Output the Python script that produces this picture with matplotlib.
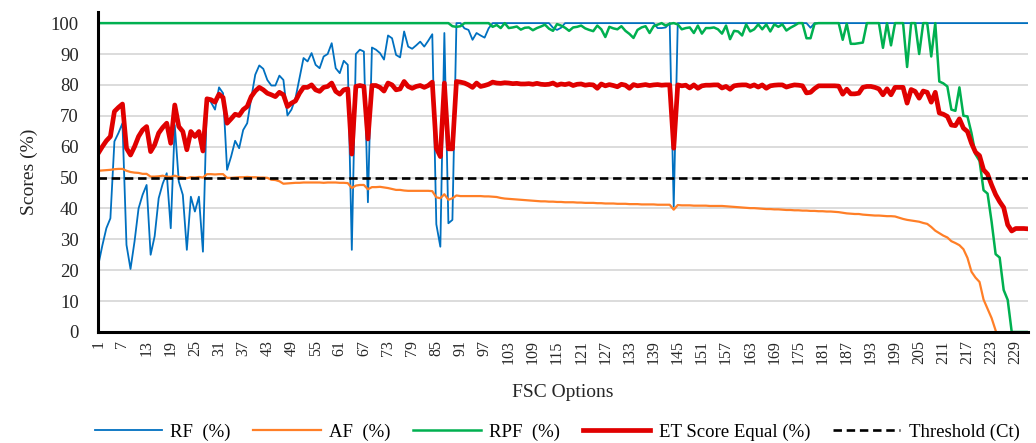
import numpy as np
import matplotlib.pyplot as plt

# FSC options 1..232 on the category axis
options = np.arange(1, 233)

# RF (%)
rf = [
    21.7, 28.0, 33.6, 36.8, 61.7, 64.4, 67.6, 28.2, 20.4, 29.3,
    40.0, 44.4, 47.6, 25.0, 31.0, 43.3, 48.0, 51.4, 33.6, 67.0,
    48.7, 44.4, 26.6, 43.8, 39.0, 43.8, 26.0, 75.7, 74.4, 72.0,
    79.2, 77.3, 52.5, 56.8, 61.9, 59.5, 65.4, 67.6, 75.7, 83.3,
    86.3, 85.2, 81.6, 79.8, 79.8, 83.0, 81.6, 70.1, 72.0, 75.7,
    82.2, 88.7, 87.6, 90.3, 86.5, 85.4, 89.2, 90.0, 93.5, 85.4,
    83.8, 87.8, 86.5, 26.6, 90.0, 91.4, 90.8, 42.0, 92.1, 91.4,
    90.3, 88.2, 96.0, 95.1, 89.7, 88.9, 97.3, 92.4, 91.7, 92.8,
    94.0, 92.4, 94.3, 96.4, 34.9, 27.6, 96.8, 35.2, 36.3, 100.0,
    100.0, 98.3, 97.8, 94.6, 96.8, 96.0, 95.3, 98.3, 100.0, 100.0,
    100.0, 100.0, 100.0, 100.0, 100.0, 100.0, 100.0, 100.0, 100.0, 100.0,
    100.0, 100.0, 100.0, 98.5, 97.8, 98.5, 100.0, 100.0, 100.0, 100.0,
    100.0, 100.0, 100.0, 100.0, 100.0, 100.0, 100.0, 100.0, 100.0, 100.0,
    100.0, 100.0, 100.0, 100.0, 100.0, 100.0, 100.0, 100.0, 100.0, 98.4,
    98.4, 98.6, 100.0, 40.6, 100.0, 100.0, 100.0, 100.0, 100.0, 100.0,
    100.0, 100.0, 100.0, 100.0, 100.0, 100.0, 100.0, 100.0, 100.0, 100.0,
    100.0, 100.0, 100.0, 100.0, 100.0, 100.0, 100.0, 100.0, 100.0, 100.0,
    100.0, 100.0, 100.0, 100.0, 100.0, 100.0, 100.0, 98.5, 100.0, 100.0,
    100.0, 100.0, 100.0, 100.0, 100.0, 100.0, 100.0, 100.0, 100.0, 100.0,
    100.0, 100.0, 100.0, 100.0, 100.0, 100.0, 100.0, 100.0, 100.0, 100.0,
    100.0, 100.0, 100.0, 100.0, 100.0, 100.0, 100.0, 100.0, 100.0, 100.0,
    100.0, 100.0, 100.0, 100.0, 100.0, 100.0, 100.0, 100.0, 100.0, 100.0,
    100.0, 100.0, 100.0, 100.0, 100.0, 100.0, 100.0, 100.0, 100.0, 100.0,
    100.0, 100.0,
]

# AF (%) - line stops where it reaches the axis
af = [
    52.2, 52.3, 52.4, 52.5, 52.7, 52.8, 52.8, 52.2, 51.8, 51.6,
    51.5, 51.2, 51.2, 50.3, 50.3, 50.4, 50.6, 50.3, 50.2, 50.6,
    50.2, 50.0, 49.8, 50.1, 50.0, 50.2, 50.0, 51.1, 51.1, 51.0,
    51.1, 51.1, 49.9, 49.9, 50.0, 50.1, 50.1, 50.2, 50.1, 50.1,
    50.0, 50.0, 49.9, 49.3, 49.2, 48.8, 48.0, 48.1, 48.2, 48.3,
    48.3, 48.4, 48.4, 48.4, 48.4, 48.4, 48.3, 48.4, 48.4, 48.4,
    48.3, 48.3, 48.2, 46.6, 47.4, 47.6, 47.6, 46.2, 46.9, 46.9,
    47.0, 46.8, 46.6, 46.3, 46.0, 46.0, 45.8, 45.7, 45.7, 45.7,
    45.7, 45.7, 45.7, 45.6, 43.6, 43.3, 44.6, 42.8, 43.3, 44.2,
    44.0, 44.0, 44.0, 44.0, 44.0, 44.0, 43.9, 43.9, 43.8, 43.7,
    43.4, 43.2, 43.1, 43.0, 42.9, 42.8, 42.7, 42.6, 42.5, 42.4,
    42.3, 42.3, 42.2, 42.2, 42.1, 42.1, 42.0, 42.0, 42.0, 41.9,
    41.9, 41.8, 41.8, 41.8, 41.7, 41.7, 41.6, 41.6, 41.6, 41.5,
    41.5, 41.5, 41.4, 41.4, 41.4, 41.3, 41.3, 41.3, 41.3, 41.2,
    41.2, 41.2, 41.2, 39.6, 41.1, 41.0, 41.0, 41.0, 40.9, 40.9,
    40.9, 40.9, 40.8, 40.8, 40.8, 40.8, 40.7, 40.6, 40.5, 40.4,
    40.3, 40.2, 40.1, 40.1, 40.0, 39.9, 39.8, 39.8, 39.7, 39.7,
    39.6, 39.5, 39.5, 39.4, 39.4, 39.3, 39.3, 39.2, 39.2, 39.1,
    39.1, 39.0, 39.0, 38.9, 38.8, 38.6, 38.4, 38.3, 38.2, 38.2,
    38.0, 37.9, 37.8, 37.7, 37.7, 37.6, 37.5, 37.5, 37.4, 37.0,
    36.6, 36.3, 36.1, 35.9, 35.7, 35.3, 35.0, 34.0, 32.8, 32.0,
    31.2, 30.6, 29.4, 28.8, 28.1, 26.8, 24.0, 19.5, 17.6, 16.2,
    10.5, 7.5, 4.5, 0.5, np.nan, np.nan, np.nan, np.nan, np.nan, np.nan,
    np.nan, np.nan,
]

# RPF (%)
rpf = [
    100.0, 100.0, 100.0, 100.0, 100.0, 100.0, 100.0, 100.0, 100.0, 100.0,
    100.0, 100.0, 100.0, 100.0, 100.0, 100.0, 100.0, 100.0, 100.0, 100.0,
    100.0, 100.0, 100.0, 100.0, 100.0, 100.0, 100.0, 100.0, 100.0, 100.0,
    100.0, 100.0, 100.0, 100.0, 100.0, 100.0, 100.0, 100.0, 100.0, 100.0,
    100.0, 100.0, 100.0, 100.0, 100.0, 100.0, 100.0, 100.0, 100.0, 100.0,
    100.0, 100.0, 100.0, 100.0, 100.0, 100.0, 100.0, 100.0, 100.0, 100.0,
    100.0, 100.0, 100.0, 100.0, 100.0, 100.0, 100.0, 100.0, 100.0, 100.0,
    100.0, 100.0, 100.0, 100.0, 100.0, 100.0, 100.0, 100.0, 100.0, 100.0,
    100.0, 100.0, 100.0, 100.0, 100.0, 100.0, 100.0, 100.0, 99.0, 98.8,
    99.0, 100.0, 100.0, 100.0, 100.0, 100.0, 100.0, 100.0, 98.8, 99.4,
    98.4, 100.0, 98.4, 98.6, 98.9, 97.9, 98.5, 98.6, 97.7, 98.4,
    98.9, 99.5, 98.2, 97.5, 99.7, 99.2, 98.5, 97.5, 98.6, 98.8,
    99.2, 98.3, 97.8, 97.4, 99.2, 98.0, 95.5, 98.8, 98.3, 98.0,
    99.0, 97.5, 96.5, 95.2, 97.8, 98.6, 99.0, 96.8, 99.0, 99.5,
    100.0, 99.2, 99.8, 100.0, 99.6, 98.0, 98.4, 98.6, 96.8, 99.2,
    96.6, 98.4, 98.4, 98.6, 98.0, 96.6, 99.2, 94.8, 97.5, 97.3,
    96.0, 99.6, 97.3, 98.0, 99.6, 98.0, 99.6, 97.3, 99.6, 98.8,
    99.6, 97.6, 98.5, 99.2, 100.0, 100.0, 95.1, 95.1, 99.8, 100.0,
    100.0, 100.0, 100.0, 100.0, 100.0, 94.6, 99.8, 93.3, 93.3, 93.5,
    93.7, 100.0, 100.0, 100.0, 100.0, 92.0, 100.0, 92.8, 100.0, 100.0,
    100.0, 85.8, 100.0, 100.0, 90.0, 100.0, 100.0, 89.2, 100.0, 81.1,
    80.5, 79.5, 72.0, 71.6, 79.2, 70.0, 69.8, 64.4, 57.5, 55.4,
    45.9, 44.8, 35.7, 25.2, 24.1, 13.6, 10.4, 0.0, 0.0, 0.0,
    0.0, 0.0,
]

# ET Score Equal (%)
et = [
    57.9, 60.0, 61.9, 63.3, 71.4, 72.7, 73.8, 59.5, 57.3, 60.0,
    63.3, 65.4, 66.5, 58.4, 60.6, 64.4, 66.2, 67.6, 61.1, 73.5,
    66.5, 64.9, 59.0, 64.9, 63.3, 64.9, 58.6, 75.5, 75.2, 74.4,
    77.0, 75.9, 67.6, 69.0, 70.5, 70.1, 72.0, 73.0, 76.2, 78.0,
    79.2, 78.4, 77.3, 76.8, 76.2, 77.6, 76.8, 73.0, 74.1, 74.8,
    77.3, 79.2, 79.2, 80.0, 78.4, 77.9, 79.2, 79.5, 80.6, 77.9,
    77.0, 78.4, 78.7, 57.6, 79.5, 79.8, 79.5, 62.5, 79.8, 79.8,
    79.2, 78.0, 80.6, 80.0, 78.4, 78.7, 81.1, 79.5, 78.9, 79.5,
    79.8, 79.2, 79.8, 80.9, 59.5, 56.8, 80.6, 59.3, 59.3, 81.1,
    80.9, 80.6, 80.0, 79.2, 80.6, 79.5, 79.8, 80.2, 80.9, 80.6,
    80.5, 80.7, 80.6, 80.4, 80.5, 80.3, 80.3, 80.4, 80.2, 80.5,
    80.2, 80.1, 80.2, 80.6, 79.9, 80.3, 80.1, 80.4, 79.8, 80.2,
    80.3, 79.9, 80.1, 80.0, 78.9, 80.3, 79.7, 80.1, 79.8, 79.4,
    80.2, 79.9, 78.9, 80.1, 79.7, 79.9, 80.1, 79.8, 80.0, 80.1,
    79.9, 80.0, 80.0, 59.5, 80.0, 79.7, 79.9, 79.0, 80.0, 78.9,
    79.7, 79.9, 79.9, 80.0, 80.0, 79.0, 79.5, 78.6, 79.7, 79.9,
    80.0, 80.0, 79.5, 80.0, 79.3, 80.0, 78.9, 79.7, 79.9, 80.0,
    80.0, 79.3, 79.7, 80.0, 79.9, 79.7, 77.4, 77.6, 78.8, 79.7,
    79.7, 79.7, 79.7, 79.7, 79.6, 77.0, 78.6, 77.1, 77.1, 77.3,
    79.2, 79.5, 79.5, 79.2, 78.7, 76.8, 78.7, 76.8, 79.2, 79.2,
    79.2, 74.1, 78.5, 77.9, 75.7, 78.0, 77.6, 74.4, 77.6, 70.9,
    70.5, 69.8, 67.0, 66.8, 69.0, 66.0, 64.9, 61.1, 58.2, 57.1,
    52.5, 51.1, 47.6, 44.5, 42.2, 40.3, 34.7, 32.7, 33.5, 33.5,
    33.5, 33.4,
]

threshold = 50
x_tick_labels = list(range(1, 233, 6))
y_ticks = [0, 10, 20, 30, 40, 50, 60, 70, 80, 90, 100]

plt.rcParams['font.family'] = ['Liberation Serif', 'DejaVu Serif']

fig = plt.figure(figsize=(10.36, 4.43), dpi=100)
ax = fig.add_axes([0.0949, 0.2506, 0.8972, 0.7230])

ax.plot(options, rf, color='#0070C0', lw=1.3, label='RF  (%)', zorder=3)
ax.plot(options, af, color='#FF7F27', lw=1.6, label='AF  (%)', zorder=4)
ax.plot(options, rpf, color='#00B050', lw=1.8, label='RPF  (%)', zorder=5)
ax.plot(options, et, color='#E00000', lw=3.4, label='ET Score Equal (%)', zorder=6)
ax.axhline(threshold, color='black', lw=1.9, dashes=(3.2, 1.8),
           label='Threshold (Ct)', zorder=7)

ax.set_xlim(1, 232)
ax.set_ylim(0, 103.7)
ax.set_yticks(y_ticks)
ax.set_xticks(x_tick_labels)
ax.set_xticklabels([str(v) for v in x_tick_labels], rotation=90, fontsize=11.5)
ax.tick_params(axis='y', length=0, pad=14, labelsize=13.5, colors='#262626')
ax.tick_params(axis='x', length=0, pad=6, colors='#262626')
ax.grid(axis='y', color='#d9d9d9', lw=1.3, zorder=0)
ax.set_axisbelow(True)

for side in ['top', 'right']:
    ax.spines[side].set_visible(False)
for side in ['left', 'bottom']:
    ax.spines[side].set_linewidth(2.2)
    ax.spines[side].set_color('black')
    ax.spines[side].set_zorder(8)

ax.set_ylabel('Scores (%)', fontsize=14, labelpad=9, color='#262626')
ax.set_xlabel('FSC Options', fontsize=14, labelpad=14, color='#262626')

fig.legend(loc='center', bbox_to_anchor=(0.5377, 1 - 432 / 443), ncol=5,
           frameon=False, fontsize=13.5, handlelength=3.6, handletextpad=0.45,
           columnspacing=1.2)

fig.savefig('out.png', dpi=100)
